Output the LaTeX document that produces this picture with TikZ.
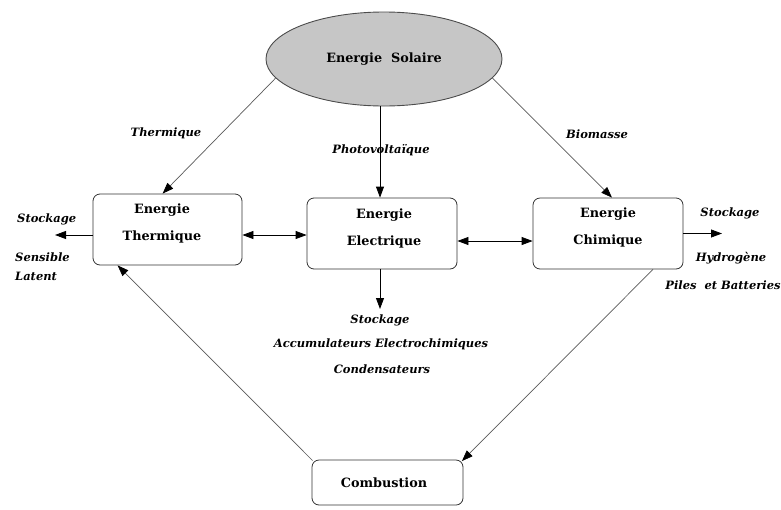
\documentclass[tikz,border=0pt]{standalone}
\usepackage{fontspec}
\setmainfont{DejaVu Serif}
\usetikzlibrary{arrows.meta,shapes.geometric}
\begin{document}
\begin{tikzpicture}[x=1pt,y=-1pt,
  boxstyle/.style={draw=black!80,line width=0.8pt,rounded corners=7pt,inner sep=0pt},
  boxtext/.style={font=\bfseries\fontsize{12.8}{27}\selectfont,align=center,inner sep=0pt},
  lbl/.style={font=\bfseries\itshape\fontsize{11.5}{13}\selectfont,inner sep=0pt},
  arr/.style={line width=0.8pt,-{Triangle[length=11pt,width=8pt,color=black]}},
  darr/.style={line width=0.8pt,{Triangle[length=11pt,width=8pt,color=black]}-{Triangle[length=11pt,width=8pt,color=black]}},
  diag/.style={draw=black!65,line width=0.7pt,-{Triangle[length=11pt,width=8pt,color=black]}}]
\useasboundingbox (0,0) rectangle (781,509);
% nodes
\node[ellipse,draw=black!70,line width=0.9pt,fill=gray!45,minimum width=236pt,minimum height=94pt,inner sep=0pt,font=\bfseries\fontsize{12.8}{16}\selectfont] (sol) at (384,59) {Energie\ \ Solaire};
\node[boxstyle,minimum width=149pt,minimum height=71pt] (therm) at (167.5,229.5) {};
\node[boxstyle,minimum width=150pt,minimum height=71pt] (elec) at (382,233.5) {};
\node[boxstyle,minimum width=150pt,minimum height=71pt] (chim) at (608,233.5) {};
\node[boxstyle,minimum width=151pt,minimum height=45pt] (comb) at (387.5,482.5) {};
\node[boxtext] (thermt) at (162,223.5) {Energie\\Thermique};
\node[boxtext] (elect) at (384,228.5) {Energie\\Electrique};
\node[boxtext] (chimt) at (608,227.5) {Energie\\Chimique};
\node[boxtext] (combt) at (384,483) {Combustion};
% labels
\node[lbl] (lth) at (166,133) {Thermique};
\node[lbl] (lpv) at (381,150) {Photovoltaïque};
\node[lbl] (lbio) at (597,134) {Biomasse};
\node[lbl,anchor=west] (lsl) at (17,219) {Stockage};
\node[lbl,anchor=west] (lsens) at (15,257) {Sensible};
\node[lbl,anchor=west] (llat) at (15,276) {Latent};
\node[lbl] (lsr) at (730,213) {Stockage};
\node[lbl] (lhyd) at (731,258) {Hydrogène};
\node[lbl] (lpil) at (723,285) {Piles\ \ et Batteries};
\node[lbl] (lse) at (380,320) {Stockage};
\node[lbl] (lacc) at (381,344) {Accumulateurs Electrochimiques};
\node[lbl] (lcond) at (382,369) {Condensateurs};
% free ends
\coordinate (endL) at (55,235);
\coordinate (endR) at (722,233.5);
\coordinate (endE) at (380,309);
% connectors
\draw[diag] (sol.190) -- ([xshift=70pt]therm.north west);
\draw[diag] (sol.350) -- ([xshift=4pt]chim.north);
\draw[arr] ([xshift=-4pt]sol.south) -- ([xshift=-2pt]elec.north);
\draw[darr] ([yshift=-5.5pt]therm.east) -- ([yshift=-5.5pt]therm.east -| elec.west);
\draw[darr] ([yshift=-7.5pt]elec.east) -- ([yshift=-7.5pt]elec.east -| chim.west);
\draw[arr] ([yshift=-5.5pt]therm.west) -- (endL);
\draw[arr] (chim.east) -- (endR);
\draw[arr] ([xshift=-2pt]elec.south) -- (endE);
\draw[diag] ([xshift=45pt]chim.south) -- ([shift={(-1.5pt,-1.5pt)}]comb.north east);
\draw[diag] ([shift={(1pt,-1pt)}]comb.north west) -- ([xshift=25pt]therm.south west);
\end{tikzpicture}
\end{document}
